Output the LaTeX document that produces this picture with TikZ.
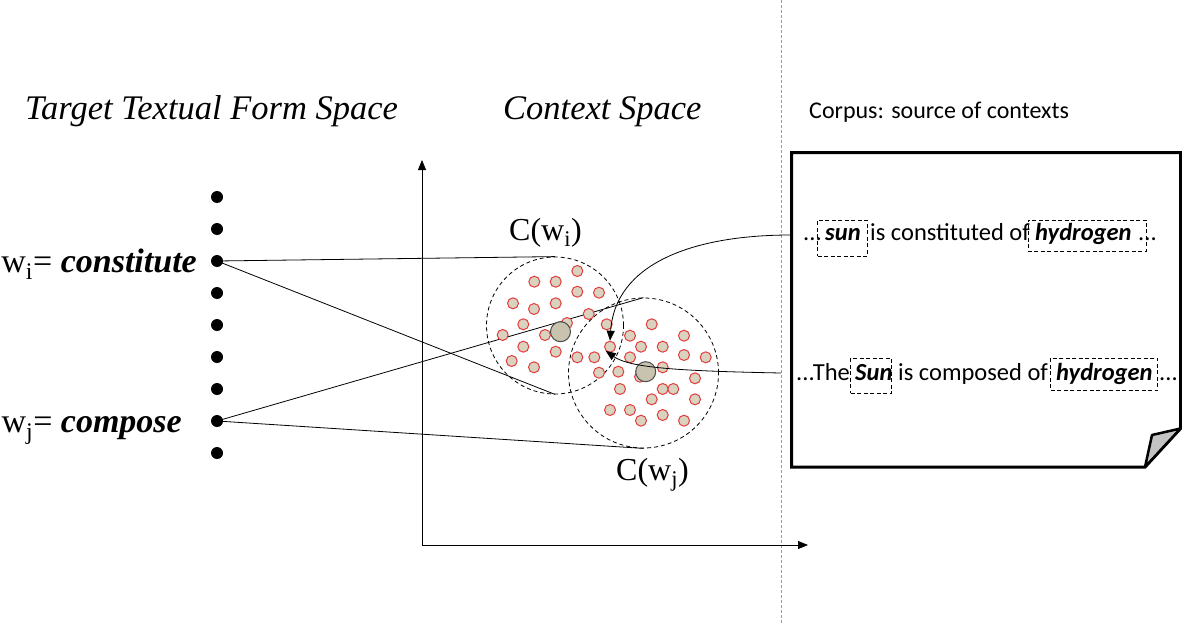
\documentclass[tikz,border=0pt]{standalone}
\usepackage{fontspec}
\setmainfont{Liberation Serif}
\newfontfamily\calfont{Carlito}
\usetikzlibrary{arrows.meta}
\definecolor{dotfill}{RGB}{217,210,190}
\definecolor{dotred}{RGB}{228,60,60}
\definecolor{bigfill}{RGB}{200,195,175}
\definecolor{sepblue}{RGB}{120,160,210}
\definecolor{foldgray}{RGB}{195,195,195}
\begin{document}
\begin{tikzpicture}[x=1pt,y=-1pt,
  sdot/.style={circle,draw=dotred,fill=dotfill,line width=1pt,minimum size=11pt,inner sep=0pt},
  bdot/.style={circle,draw=black!70,fill=bigfill,line width=1pt,minimum size=20pt,inner sep=0pt},
  vdot/.style={circle,fill=black,minimum size=12pt,inner sep=0pt},
  dcirc/.style={circle,draw,dash pattern=on 4pt off 3pt,line width=0.8pt,inner sep=0pt},
  dbox/.style={draw,dash pattern=on 4pt off 2.5pt,line width=0.8pt,inner sep=0pt,rectangle},
  ttl/.style={font=\fontsize{34.5}{40}\selectfont\itshape,inner sep=0pt,anchor=base west},
  lbl/.style={font=\fontsize{34}{40}\selectfont,inner sep=0pt,anchor=base east},
  clbl/.style={font=\fontsize{32}{38}\selectfont,inner sep=0pt,anchor=base west},
  ctx/.style={font=\calfont\fontsize{24.5}{29}\selectfont,inner sep=0pt,anchor=base west},
  conn/.style={line width=0.8pt},
  arr/.style={line width=0.8pt,-{Triangle[length=10pt,width=8pt]}}
]
\useasboundingbox (0,0) rectangle (1182,623);

% separator
\draw[sepblue,line width=1pt,dash pattern=on 3pt off 2pt] (781,0) coordinate (s1) -- (781,623) coordinate (s2);

% titles
\node[ttl] (t1) at (25,120) {Target Textual Form Space};
\node[ttl] (t2) at (503,120) {Context Space};
\node[ctx,font=\calfont\fontsize{24}{28}\selectfont] (t3) at (809,118) {Corpus: source of contexts};

% axes
\coordinate (O) at (422,545);
\coordinate (Ytip) at (422,160);
\coordinate (Xtip) at (808,545);
\draw[arr] (O) -- (Ytip);
\draw[arr] (O) -- (Xtip);

% dots column
\foreach \y/\n in {197/d1,229/d2,261/wi,293/d4,325/d5,357/d6,389/d7,421/wj,453/d9}
  \node[vdot] (\n) at (217,\y) {};

% left labels
\node[lbl] (li) at (197,272) {w\textsubscript{i}= \textbf{\textit{constitute}}};
\node[lbl] (lj) at (182,432) {w\textsubscript{j}= \textbf{\textit{compose}}};

% context circles
\node[dcirc,minimum size=137pt] (Ci) at (555,325.5) {};
\node[dcirc,minimum size=150pt] (Cj) at (643.5,373) {};
\node[clbl] (lci) at (509,240) {C(w\textsubscript{i})};
\node[clbl] (lcj) at (616,480) {C(w\textsubscript{j})};

% connectors
\draw[conn] (wi.center) -- (Ci.north);
\draw[conn] (wi.center) -- (Ci.south);
\draw[conn] (wj.center) -- (Cj.north);
\draw[conn] (wj.center) -- (Cj.south);

% small dots
\foreach \p in {(577.3,271),(534.3,281.7),(555.7,281.7),(577.3,291.7),(599,292.7),(513,303.3),(534,309),(555.7,303.3),(588.7,314),(523.3,324.3),(606.7,324.3),(502.7,335),(545,335),(523.3,346.7),(555.7,351.7),(511.7,361),(534,367.3),(567,323),
  (651.7,324.3),(684,335.7),(630,335.7),(641,346.7),(662.7,346.7),(577.3,357.3),(594.3,357.3),(630,357.3),(684,355),(705.7,357.3),(599,372.7),(618.3,371.7),(662.7,367.3),(695,378.3),(620,389),(651.7,399.3),(662.7,389),(673.3,389),(695,399.3),(610,410),(630,410),(641,420.7),(662.7,415),(684,420.7),(640,376.7)}
  \node[sdot] at \p {};
\node[sdot] (tg) at (610,346.7) {};
\node[bdot] (bi) at (560.5,331.7) {};
\node[bdot] (bj) at (645.7,371.7) {};

% document
\draw[line width=3pt,line join=miter] (791.5,152.5) -- (1180.5,152.5) -- (1180.5,428.5) -- (1145,467) -- (791.5,467) -- cycle;
\draw[line width=2.5pt,fill=foldgray,line join=round] (1145,467) -- (1152,435) -- (1180.5,428.5) -- cycle;
\coordinate (e1) at (791,235);
\coordinate (e2) at (781,373);

% context lines
\node[ctx] (a1) at (803,240) {...};
\node[ctx] (a2) at (825,240) {\textbf{\textit{sun}}};
\node[ctx] (a3) at (870,240) {is constituted of};
\node[ctx] (a4) at (1035,240) {\textbf{\textit{hydrogen}}};
\node[ctx] (a5) at (1138,240) {...};
\node[dbox,minimum width=49.6pt,minimum height=36pt] (b1) at (842.5,238) {};
\node[dbox,minimum width=118.7pt,minimum height=31pt] (b2) at (1087.3,235.5) {};

\node[ctx] (c1) at (796,380) {...The};
\node[ctx] (c2) at (855,380) {\textbf{\textit{Sun}}};
\node[ctx] (c3) at (898,380) {is composed of};
\node[ctx] (c4) at (1056,380) {\textbf{\textit{hydrogen}}};
\node[ctx] (c5) at (1159,380) {...};
\node[dbox,minimum width=41pt,minimum height=35pt] (b3) at (871.2,375.5) {};
\node[dbox,minimum width=107pt,minimum height=32.7pt] (b4) at (1104.2,374.3) {};

% arrows
\draw[arr] (e1) .. controls (690,235) and (615,265) .. (tg.north);
\draw[arr] (e2) .. controls (680,371) and (630,368) .. (tg.south west);
\end{tikzpicture}
\end{document}
